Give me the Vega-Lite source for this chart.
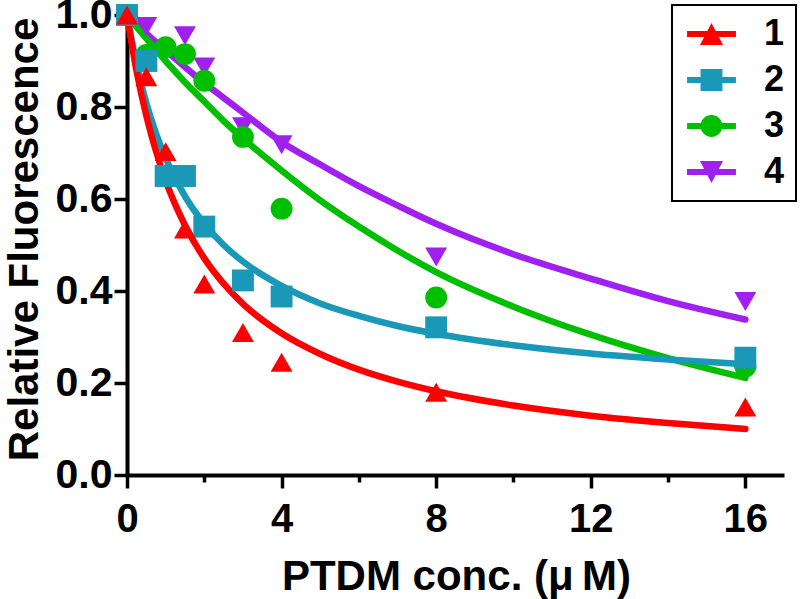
{
  "$schema": "https://vega.github.io/schema/vega-lite/v6.json",
  "width": 657,
  "height": 460,
  "autosize": {"type": "none"},
  "padding": {"left": 127, "top": 15, "right": 16, "bottom": 124},
  "background": "white",
  "config": {
    "view": {"stroke": null},
    "font": "Liberation Sans",
    "legend": {
      "orient": "none",
      "legendX": 545,
      "legendY": -10,
      "padding": 11,
      "symbolSize": 900,
      "symbolOffset": 10.5,
      "labelOffset": 34.5,
      "labelFont": "Liberation Sans",
      "labelFontWeight": "bold",
      "labelFontSize": 36,
      "labelColor": "black",
      "rowPadding": 10,
      "strokeColor": "black",
      "strokeWidth": 2,
      "fillColor": "white",
      "symbolOpacity": 1,
      "symbolStrokeWidth": 0,
      "title": null
    }
  },
  "datasets": {
    "fit": [
      {"series": "4", "x": 0, "y": 1.0}, {"series": "4", "x": 0.25, "y": 0.98}, {"series": "4", "x": 0.5, "y": 0.96}, {"series": "4", "x": 0.75, "y": 0.941}, {"series": "4", "x": 1, "y": 0.923}, {"series": "4", "x": 1.5, "y": 0.887}, {"series": "4", "x": 2, "y": 0.852}, {"series": "4", "x": 2.5, "y": 0.82}, {"series": "4", "x": 3, "y": 0.788}, {"series": "4", "x": 4, "y": 0.724}, {"series": "4", "x": 5, "y": 0.675}, {"series": "4", "x": 6, "y": 0.628}, {"series": "4", "x": 7, "y": 0.586}, {"series": "4", "x": 8, "y": 0.546}, {"series": "4", "x": 10, "y": 0.48}, {"series": "4", "x": 12, "y": 0.427}, {"series": "4", "x": 14, "y": 0.378}, {"series": "4", "x": 16, "y": 0.338},
      {"series": "3", "x": 0, "y": 1.0}, {"series": "3", "x": 0.25, "y": 0.974}, {"series": "3", "x": 0.5, "y": 0.949}, {"series": "3", "x": 0.75, "y": 0.924}, {"series": "3", "x": 1, "y": 0.9}, {"series": "3", "x": 1.5, "y": 0.854}, {"series": "3", "x": 2, "y": 0.812}, {"series": "3", "x": 2.5, "y": 0.77}, {"series": "3", "x": 3, "y": 0.732}, {"series": "3", "x": 4, "y": 0.662}, {"series": "3", "x": 5, "y": 0.597}, {"series": "3", "x": 6, "y": 0.54}, {"series": "3", "x": 7, "y": 0.488}, {"series": "3", "x": 8, "y": 0.441}, {"series": "3", "x": 10, "y": 0.366}, {"series": "3", "x": 12, "y": 0.305}, {"series": "3", "x": 14, "y": 0.254}, {"series": "3", "x": 16, "y": 0.211},
      {"series": "2", "x": 0, "y": 1.0}, {"series": "2", "x": 0.25, "y": 0.892}, {"series": "2", "x": 0.5, "y": 0.809}, {"series": "2", "x": 0.75, "y": 0.743}, {"series": "2", "x": 1, "y": 0.689}, {"series": "2", "x": 1.5, "y": 0.606}, {"series": "2", "x": 2, "y": 0.546}, {"series": "2", "x": 2.5, "y": 0.5}, {"series": "2", "x": 3, "y": 0.464}, {"series": "2", "x": 4, "y": 0.411}, {"series": "2", "x": 5, "y": 0.373}, {"series": "2", "x": 6, "y": 0.346}, {"series": "2", "x": 7, "y": 0.324}, {"series": "2", "x": 8, "y": 0.307}, {"series": "2", "x": 10, "y": 0.282}, {"series": "2", "x": 12, "y": 0.264}, {"series": "2", "x": 14, "y": 0.251}, {"series": "2", "x": 16, "y": 0.241},
      {"series": "1", "x": 0, "y": 1.0}, {"series": "1", "x": 0.25, "y": 0.877}, {"series": "1", "x": 0.5, "y": 0.781}, {"series": "1", "x": 0.75, "y": 0.704}, {"series": "1", "x": 1, "y": 0.64}, {"series": "1", "x": 1.5, "y": 0.543}, {"series": "1", "x": 2, "y": 0.471}, {"series": "1", "x": 2.5, "y": 0.416}, {"series": "1", "x": 3, "y": 0.372}, {"series": "1", "x": 4, "y": 0.308}, {"series": "1", "x": 5, "y": 0.263}, {"series": "1", "x": 6, "y": 0.229}, {"series": "1", "x": 7, "y": 0.203}, {"series": "1", "x": 8, "y": 0.182}, {"series": "1", "x": 10, "y": 0.151}, {"series": "1", "x": 12, "y": 0.129}, {"series": "1", "x": 14, "y": 0.113}, {"series": "1", "x": 16, "y": 0.1}
    ],
    "pts": [
      {"series": "4", "x": 0, "y": 1.0}, {"series": "4", "x": 0.5, "y": 0.975}, {"series": "4", "x": 1.5, "y": 0.955}, {"series": "4", "x": 2, "y": 0.887}, {"series": "4", "x": 3, "y": 0.757}, {"series": "4", "x": 4, "y": 0.718}, {"series": "4", "x": 8, "y": 0.474}, {"series": "4", "x": 16, "y": 0.377},
      {"series": "3", "x": 0, "y": 1.0}, {"series": "3", "x": 0.5, "y": 0.913}, {"series": "3", "x": 1, "y": 0.93}, {"series": "3", "x": 1.5, "y": 0.915}, {"series": "3", "x": 2, "y": 0.857}, {"series": "3", "x": 3, "y": 0.735}, {"series": "3", "x": 4, "y": 0.579}, {"series": "3", "x": 8, "y": 0.386}, {"series": "3", "x": 16, "y": 0.236},
      {"series": "2", "x": 0, "y": 1.0}, {"series": "2", "x": 0.5, "y": 0.9}, {"series": "2", "x": 1, "y": 0.65}, {"series": "2", "x": 1.5, "y": 0.65}, {"series": "2", "x": 2, "y": 0.54}, {"series": "2", "x": 3, "y": 0.423}, {"series": "2", "x": 4, "y": 0.388}, {"series": "2", "x": 8, "y": 0.321}, {"series": "2", "x": 16, "y": 0.255},
      {"series": "1", "x": 0, "y": 1.0}, {"series": "1", "x": 0.5, "y": 0.866}, {"series": "1", "x": 1, "y": 0.703}, {"series": "1", "x": 1.5, "y": 0.535}, {"series": "1", "x": 2, "y": 0.415}, {"series": "1", "x": 3, "y": 0.31}, {"series": "1", "x": 4, "y": 0.245}, {"series": "1", "x": 8, "y": 0.18}, {"series": "1", "x": 16, "y": 0.148}
    ]
  },
  "encoding": {
    "x": {
      "field": "x",
      "type": "quantitative",
      "scale": {"domain": [0, 17], "nice": false, "zero": false},
      "axis": {
        "values": [0, 2, 4, 6, 8, 10, 12, 14, 16],
        "labelExpr": "datum.value % 4 === 0 ? datum.label : ''",
        "grid": false,
        "domainColor": "black",
        "domainWidth": 4,
        "tickColor": "black",
        "tickWidth": 3.5,
        "tickSize": {"condition": {"test": "datum.value % 4 === 0", "value": 13}, "value": 7},
        "labelFont": "Liberation Sans",
        "labelFontWeight": "bold",
        "labelFontSize": 40,
        "labelColor": "black",
        "labelPadding": 11,
        "labelFlush": false,
        "labelOverlap": false,
        "title": "PTDM conc. (μ\u2009M)",
        "titleFont": "Liberation Sans",
        "titleFontWeight": "bold",
        "titleFontSize": 42,
        "titleColor": "black",
        "titleX": 329,
        "titleY": 114,
        "titleAlign": "center",
        "titleBaseline": "alphabetic"
      }
    },
    "y": {
      "field": "y",
      "type": "quantitative",
      "scale": {"domain": [0, 1], "nice": false, "zero": false},
      "axis": {
        "values": [0, 0.2, 0.4, 0.6, 0.8, 1.0],
        "format": ".1f",
        "grid": false,
        "domainColor": "black",
        "domainWidth": 4,
        "tickColor": "black",
        "tickWidth": 3.5,
        "tickSize": 13,
        "labelFont": "Liberation Sans",
        "labelFontWeight": "bold",
        "labelFontSize": 41,
        "labelColor": "black",
        "labelPadding": 2,
        "labelFlush": false,
        "labelOverlap": false,
        "title": "Relative Fluorescence",
        "titleFont": "Liberation Sans",
        "titleFontWeight": "bold",
        "titleFontSize": 42,
        "titleColor": "black",
        "titleAngle": -90,
        "titleX": -90,
        "titleY": 224,
        "titleAlign": "center",
        "titleBaseline": "alphabetic"
      }
    },
    "color": {
      "field": "series",
      "type": "nominal",
      "scale": {"domain": ["1", "2", "3", "4"], "range": ["#FF0000", "#1A98B8", "#00BF00", "#A020F0"]},
      "legend": null
    }
  },
  "layer": [
    {
      "data": {"name": "fit"},
      "mark": {"type": "line", "strokeWidth": 6.5, "strokeCap": "round", "interpolate": "monotone"}
    },
    {
      "data": {"name": "pts"},
      "mark": {"type": "point", "filled": true, "opacity": 1, "size": 480},
      "encoding": {
        "shape": {
          "field": "series",
          "type": "nominal",
          "scale": {"domain": ["1", "2", "3", "4"], "range": ["triangle-up", "square", "circle", "triangle-down"]},
          "legend": null
        }
      }
    },
    {
      "data": {"name": "pts"},
      "transform": [{"filter": "datum.x < 0"}],
      "mark": {"type": "point", "filled": true, "opacity": 1},
      "encoding": {
        "fill": {
          "field": "series",
          "type": "nominal",
          "scale": {"domain": ["1", "2", "3", "4"], "range": ["#FF0000", "#1A98B8", "#00BF00", "#A020F0"]},
          "legend": {"title": null, "labelExpr": "datum.label + '\u00a0'"}
        },
        "shape": {
          "field": "series",
          "type": "nominal",
          "scale": {
            "domain": ["1", "2", "3", "4"],
            "range": [
              "M-1.63,-0.2H1.63V0.2H-1.63Z M0,-0.73L0.77,0.73L-0.77,0.73Z",
              "M-1.63,-0.2H1.63V0.2H-1.63Z M-0.73,-0.73H0.73V0.73H-0.73Z",
              "M-1.63,-0.2H1.63V0.2H-1.63Z M-0.73,0A0.73,0.73,0,1,1,0.73,0A0.73,0.73,0,1,1,-0.73,0Z",
              "M-1.63,-0.2H1.63V0.2H-1.63Z M-0.77,-0.73L0.77,-0.73L0,0.73Z"
            ]
          },
          "legend": {"title": null, "labelExpr": "datum.label + '\u00a0'"}
        }
      }
    }
  ],
  "resolve": {"scale": {"shape": "independent", "fill": "independent"}}
}
